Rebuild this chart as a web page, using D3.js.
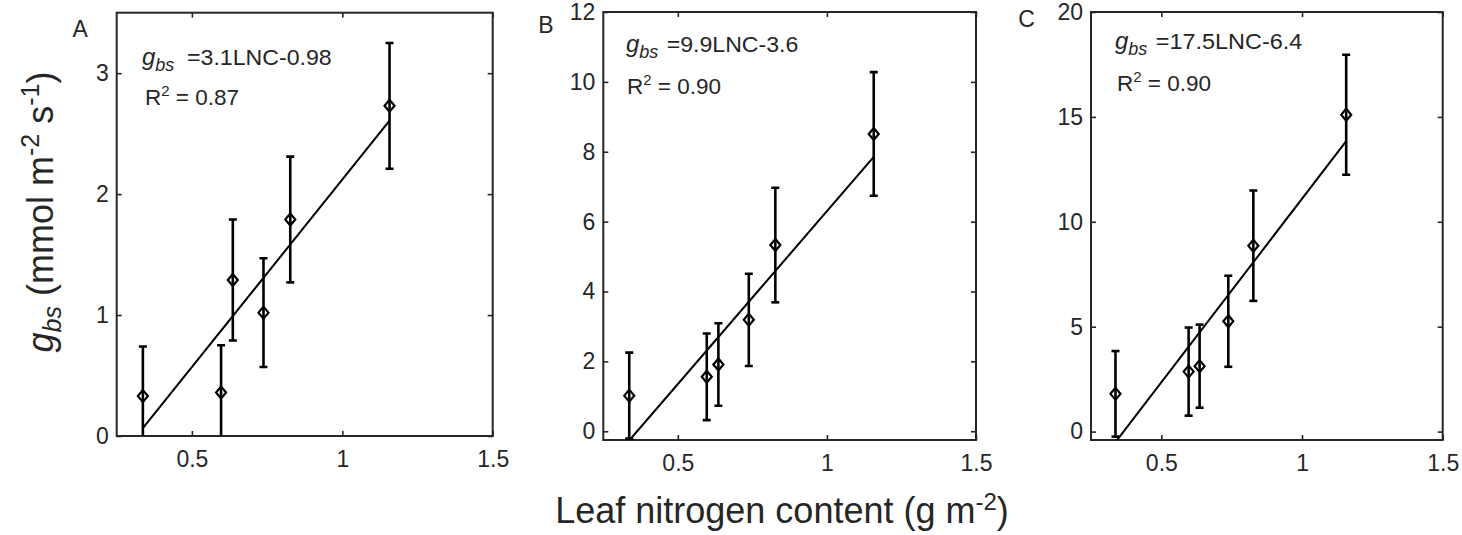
<!DOCTYPE html>
<html>
<head>
<meta charset="utf-8">
<script src="https://cdn.jsdelivr.net/npm/d3@7"></script>
<style>
  html, body { margin: 0; padding: 0; background: #fff; }
  svg { display: block; font-family: Arial, "Liberation Sans", Helvetica, sans-serif; }
</style>
</head>
<body>
<svg id="chart" width="1462" height="535"></svg>
<script>
// ---- data ----
const LNC = [0.337, 0.597, 0.636, 0.738, 0.827, 1.157];
const gbsA = [0.33, 0.36, 1.29, 1.02, 1.79, 2.73];
const errA = [0.41, 0.39, 0.50, 0.45, 0.52, 0.52];
const gbsB = [1.02, 1.56, 1.91, 3.19, 5.33, 8.51];
const errB = [1.23, 1.24, 1.18, 1.32, 1.64, 1.77];
const gbsC = [1.80, 2.86, 3.12, 5.26, 8.86, 15.1];
const errC = [2.04, 2.10, 1.98, 2.17, 2.63, 2.86];
const slopes = [3.1, 9.9, 17.5];
const intercepts = [-0.98, -3.6, -6.4];
const slopeLabels = ["3.1", "9.9", "17.5"];
const interceptLabels = ["0.98", "3.6", "6.4"];
const r2Labels = ["0.87", "0.90", "0.90"];
const panelLetters = ["A", "B", "C"];
const xDomain = [0.25, 1.5];
const xTicks = [0.5, 1, 1.5];
const yDomains = [[0, 3.5], [-0.25, 12], [-0.4, 20]];
const yTicksA = [0, 1, 2, 3];
const yTicksB = [0, 2, 4, 6, 8, 10, 12];
const yTicksC = [0, 5, 10, 15, 20];

// ---- layout ----
const series = [gbsA, gbsB, gbsC];
const errs = [errA, errB, errC];
const yTicksAll = [yTicksA, yTicksB, yTicksC];
const boxes = [
  {left: 116.7, right: 492.7, top: 12.7, bottom: 436,
   letter: [72.5, 36.5], eq: [142, 65, 187, 331.7], r2: [145, 105]},
  {left: 603.3, right: 976, top: 12, bottom: 440,
   letter: [538.3, 32.5], eq: [626, 52, 666.7, 798.3], r2: [627, 94]},
  {left: 1091, right: 1442.7, top: 12, bottom: 440,
   letter: [1018.3, 26.5], eq: [1115, 49, 1155.7, 1302.3], r2: [1117, 91]}
];
const axisColor = "#262626";
const svg = d3.select("#chart");

boxes.forEach((b, i) => {
  const x = d3.scaleLinear().domain(xDomain).range([b.left, b.right]);
  const y = d3.scaleLinear().domain(yDomains[i]).range([b.bottom, b.top]);
  const g = svg.append("g");

  const clipId = "clip" + i;
  svg.append("clipPath").attr("id", clipId).append("rect")
    .attr("x", b.left).attr("y", b.top)
    .attr("width", b.right - b.left).attr("height", b.bottom - b.top);

  const tickLen = 5;
  // axes
  const xb = g.append("g").attr("transform", `translate(0,${b.bottom})`)
    .call(d3.axisBottom(x).tickValues(xTicks).tickSizeInner(-tickLen).tickSizeOuter(0).tickPadding(15).tickFormat(d3.format("~g")));
  const xt = g.append("g").attr("transform", `translate(0,${b.top})`)
    .call(d3.axisTop(x).tickValues(xTicks).tickSizeInner(-tickLen).tickSizeOuter(0).tickFormat(""));
  const yl = g.append("g").attr("transform", `translate(${b.left},0)`)
    .call(d3.axisLeft(y).tickValues(yTicksAll[i]).tickSizeInner(-tickLen).tickSizeOuter(0).tickPadding(8).tickFormat(d3.format("~g")));
  const yr = g.append("g").attr("transform", `translate(${b.right},0)`)
    .call(d3.axisRight(y).tickValues(yTicksAll[i]).tickSizeInner(-tickLen).tickSizeOuter(0).tickFormat(""));
  [xb, xt, yl, yr].forEach(a => {
    a.select(".domain").remove();
    a.selectAll(".tick line").attr("stroke", axisColor).attr("stroke-width", 1.6);
    a.selectAll(".tick text").attr("fill", axisColor).style("font-size", "23px")
      .style("font-family", "Arial, 'Liberation Sans', sans-serif");
  });
  xb.selectAll(".tick text").attr("dy", "0.71em");

  g.append("rect").attr("x", b.left).attr("y", b.top)
    .attr("width", b.right - b.left).attr("height", b.bottom - b.top)
    .attr("fill", "none").attr("stroke", axisColor).attr("stroke-width", 2);

  const plot = g.append("g").attr("clip-path", `url(#${clipId})`);

  // fit line
  const xs = d3.extent(LNC);
  plot.append("line")
    .attr("x1", x(xs[0])).attr("y1", y(slopes[i] * xs[0] + intercepts[i]))
    .attr("x2", x(xs[1])).attr("y2", y(slopes[i] * xs[1] + intercepts[i]))
    .attr("stroke", "#000").attr("stroke-width", 2);

  // error bars
  const data = LNC.map((v, k) => ({x: v, y: series[i][k], e: errs[i][k]}));
  const cap = 4;
  const eb = plot.selectAll("g.eb").data(data).join("g").attr("class", "eb");
  eb.append("line")
    .attr("x1", d => x(d.x)).attr("x2", d => x(d.x))
    .attr("y1", d => y(d.y - d.e)).attr("y2", d => y(d.y + d.e))
    .attr("stroke", "#000").attr("stroke-width", 2.6);
  eb.append("line")
    .attr("x1", d => x(d.x) - cap).attr("x2", d => x(d.x) + cap)
    .attr("y1", d => y(d.y + d.e)).attr("y2", d => y(d.y + d.e))
    .attr("stroke", "#000").attr("stroke-width", 2.6);
  eb.append("line")
    .attr("x1", d => x(d.x) - cap).attr("x2", d => x(d.x) + cap)
    .attr("y1", d => y(d.y - d.e)).attr("y2", d => y(d.y - d.e))
    .attr("stroke", "#000").attr("stroke-width", 2.6);

  // diamond markers
  plot.selectAll("path.mk").data(data).join("path").attr("class", "mk")
    .attr("d", d => {
      const cx = x(d.x), cy = y(d.y), w = 5, h = 6;
      return `M${cx},${cy - h}L${cx + w},${cy}L${cx},${cy + h}L${cx - w},${cy}Z`;
    })
    .attr("fill", "none").attr("stroke", "#000").attr("stroke-width", 2.2);

  // panel letter
  g.append("text").attr("x", b.letter[0]).attr("y", b.letter[1])
    .attr("fill", axisColor).style("font-size", "23px").text(panelLetters[i]);

  // equation
  const eq = g.append("text").attr("x", b.eq[0]).attr("y", b.eq[1])
    .attr("fill", axisColor).style("font-size", "24px");
  eq.append("tspan").style("font-style", "italic").text("g");
  eq.append("tspan").style("font-style", "italic").style("font-size", "18px").attr("dy", 6).text("bs");
  g.append("text").attr("x", b.eq[2]).attr("y", b.eq[1])
    .attr("fill", axisColor).style("font-size", "22.5px")
    .attr("textLength", b.eq[3] - b.eq[2]).attr("lengthAdjust", "spacingAndGlyphs")
    .text("=" + slopeLabels[i] + "LNC-" + interceptLabels[i]);

  const r = g.append("text").attr("x", b.r2[0]).attr("y", b.r2[1])
    .attr("fill", axisColor).style("font-size", "22.5px");
  r.append("tspan").text("R");
  r.append("tspan").style("font-size", "15px").attr("dy", -9).text("2");
  r.append("tspan").attr("dy", 9).text(" = " + r2Labels[i]);
});

// x-axis title
const xt = svg.append("text").attr("x", 782).attr("y", 523).attr("text-anchor", "middle")
  .attr("fill", axisColor).style("font-size", "36px");
xt.append("tspan").text("Leaf nitrogen content (g m");
xt.append("tspan").style("font-size", "24px").attr("dy", -13).text("-2");
xt.append("tspan").attr("dy", 13).text(")");

// y-axis title
const yt = svg.append("text").attr("transform", "translate(53,212) rotate(-90)")
  .attr("text-anchor", "middle").attr("fill", axisColor).style("font-size", "36px");
yt.append("tspan").style("font-style", "italic").text("g");
yt.append("tspan").style("font-style", "italic").style("font-size", "25px").attr("dy", 8).text("bs");
yt.append("tspan").attr("dy", -8).text(" (mmol m");
yt.append("tspan").style("font-size", "25px").attr("dy", -14).text("-2");
yt.append("tspan").attr("dy", 14).text(" s");
yt.append("tspan").style("font-size", "25px").attr("dy", -14).text("-1");
yt.append("tspan").attr("dy", 14).text(")");
</script>
</body>
</html>
